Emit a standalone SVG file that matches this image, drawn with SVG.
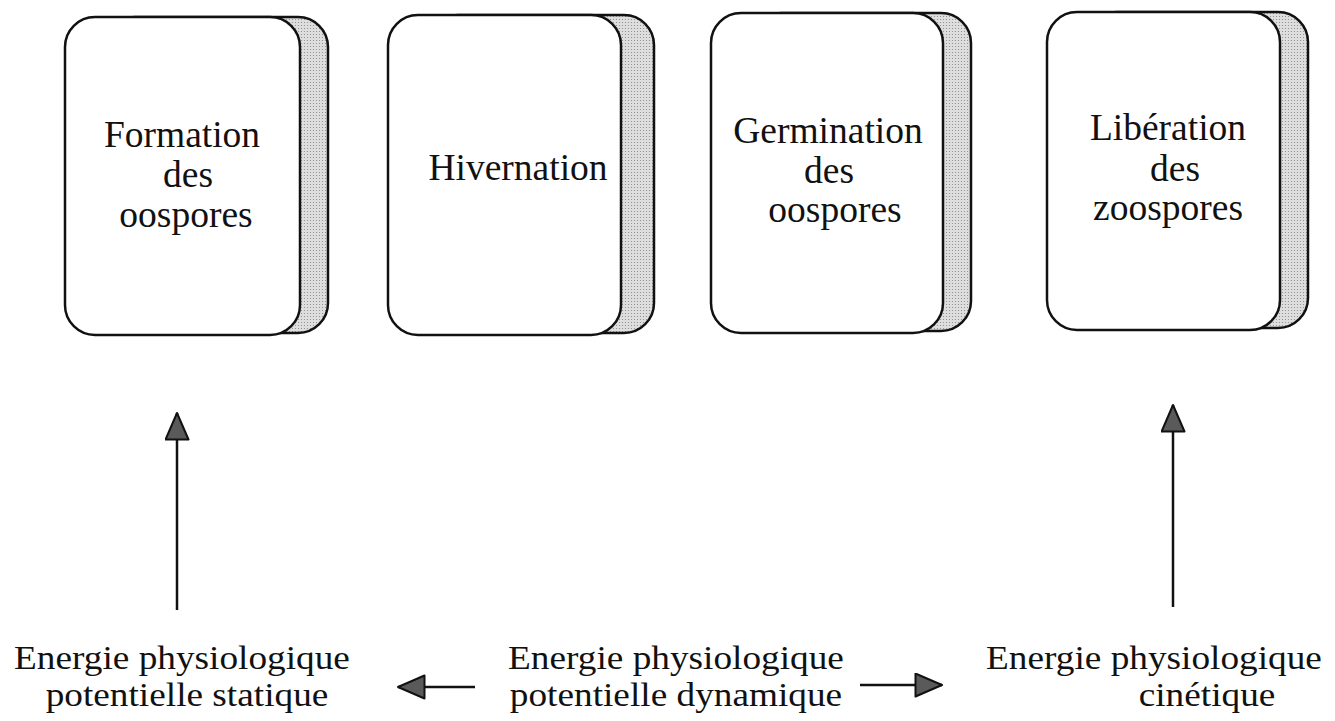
<svg xmlns="http://www.w3.org/2000/svg" width="1335" height="721" viewBox="0 0 1335 721">
<defs>
<pattern id="dots" width="3" height="3" patternUnits="userSpaceOnUse">
<rect width="3" height="3" fill="#dedede"/>
<circle cx="1.5" cy="1.5" r="0.6" fill="#888"/>
</pattern>
<marker id="ah" markerUnits="userSpaceOnUse" markerWidth="30" markerHeight="26" viewBox="0 0 30 26" refX="28" refY="12.5" orient="auto">
<path d="M1.5,1 L28,12.5 L1.5,24 Z" fill="#5a5a5a" stroke="#111" stroke-width="2" stroke-linejoin="round"/>
</marker>
</defs>
<style>
.front{fill:#fff;stroke:#111;stroke-width:2.5}
.back{fill:url(#dots);stroke:#111;stroke-width:2.5}
.t{font-family:"Liberation Serif","Times New Roman",serif;font-size:37.5px;fill:#111;text-anchor:middle}
.b{font-family:"Liberation Serif","Times New Roman",serif;font-size:33px;fill:#111;text-anchor:middle}
.c{stroke:#111;stroke-width:2.5;fill:none;marker-end:url(#ah)}
</style>
<rect width="1335" height="721" fill="#fff"/>
<g id="node-formation">
<rect class="back" x="105" y="17" width="223" height="316" rx="30"/>
<rect class="front" x="65" y="17" width="235" height="318" rx="30"/>
<text class="t" x="182" y="147">Formation</text>
<text class="t" x="188" y="187">des</text>
<text class="t" x="186" y="227">oospores</text>
</g>
<g id="node-hivernation">
<rect class="back" x="428" y="15" width="226" height="318" rx="30"/>
<rect class="front" x="388" y="15" width="233" height="320" rx="30"/>
<text class="t" x="518" y="180">Hivernation</text>
</g>
<g id="node-germination">
<rect class="back" x="751" y="13" width="220" height="318" rx="30"/>
<rect class="front" x="711" y="13" width="232" height="320" rx="30"/>
<text class="t" x="828" y="143">Germination</text>
<text class="t" x="829" y="183">des</text>
<text class="t" x="835" y="222">oospores</text>
</g>
<g id="node-liberation">
<rect class="back" x="1087" y="12" width="221" height="316" rx="30"/>
<rect class="front" x="1047" y="12" width="233" height="318" rx="30"/>
<text class="t" x="1168" y="140">Libération</text>
<text class="t" x="1175" y="181">des</text>
<text class="t" x="1168" y="220">zoospores</text>
</g>
<g id="node-statique">
<text class="b" transform="translate(182,669) scale(1.13,1)">Energie physiologique</text>
<text class="b" transform="translate(187,706) scale(1.13,1)">potentielle statique</text>
</g>
<g id="node-dynamique">
<text class="b" transform="translate(676,669) scale(1.13,1)">Energie physiologique</text>
<text class="b" transform="translate(676,706) scale(1.13,1)">potentielle dynamique</text>
</g>
<g id="node-cinetique">
<text class="b" transform="translate(1154,669) scale(1.13,1)">Energie physiologique</text>
<text class="b" transform="translate(1207,706) scale(1.13,1)">cinétique</text>
</g>
<g id="connectors">
<line class="c" x1="177" y1="610" x2="177" y2="413"/>
<line class="c" x1="1173" y1="607" x2="1173" y2="405"/>
<line class="c" x1="475" y1="687" x2="398" y2="687"/>
<line class="c" x1="860" y1="685" x2="942" y2="685"/>
</g>
</svg>
